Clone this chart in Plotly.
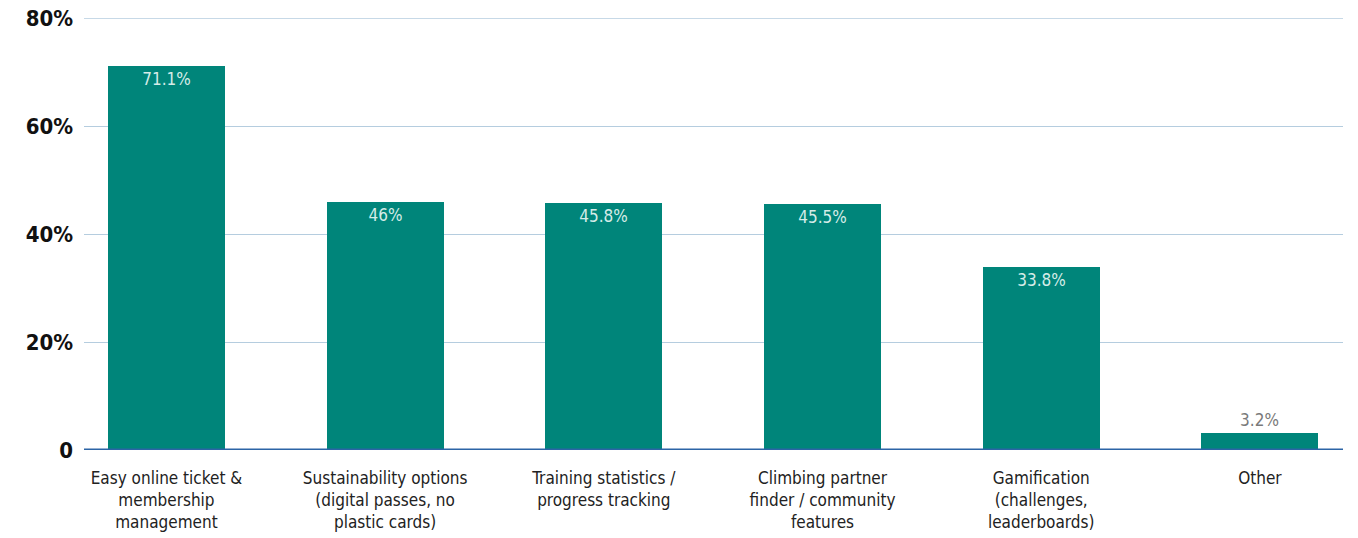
import plotly.graph_objects as go

categories = [
    "Easy online ticket &<br>membership<br>management",
    "Sustainability options<br>(digital passes, no<br>plastic cards)",
    "Training statistics /<br>progress tracking",
    "Climbing partner<br>finder / community<br>features",
    "Gamification<br>(challenges,<br>leaderboards)",
    "Other",
]
values = [71.1, 46, 45.8, 45.5, 33.8, 3.2]
value_labels = ["71.1%", "46%", "45.8%", "45.5%", "33.8%", "3.2%"]
y_tick_values = [0, 20, 40, 60, 80]
y_tick_labels = ["0", "20%", "40%", "60%", "80%"]

FONT = "DejaVu Sans Condensed, Roboto Condensed, sans-serif"
BAR_COLOR = "#00857a"
GRID_COLOR = "#b5cddf"

x_pos = list(range(len(categories)))
inside = [v > 10 for v in values]

fig = go.Figure()
fig.add_trace(go.Bar(
    x=x_pos,
    y=values,
    width=0.535,
    marker=dict(color=BAR_COLOR, line=dict(width=0)),
    text=value_labels,
    textposition=["inside" if i else "outside" for i in inside],
    insidetextanchor="end",
    textangle=0,
    cliponaxis=False,
    insidetextfont=dict(family=FONT, size=17, color="#d6ece8"),
    outsidetextfont=dict(family=FONT, size=17, color="#7a7a7a"),
    hoverinfo="skip",
))

fig.update_layout(
    width=1358,
    height=538,
    margin=dict(l=84, r=15, t=18, b=88, autoexpand=False),
    plot_bgcolor="white",
    paper_bgcolor="white",
    showlegend=False,
    bargap=0,
    xaxis=dict(
        range=[-0.377, 5.38],
        tickmode="array",
        tickvals=x_pos,
        ticktext=categories,
        tickfont=dict(family=FONT, size=17, color="#222222"),
        showgrid=False,
        zeroline=False,
        showline=False,
        ticks="",
        ticklabelstandoff=16,
        automargin=False,
    ),
    yaxis=dict(
        range=[0, 80],
        tickmode="array",
        tickvals=y_tick_values,
        ticktext=y_tick_labels,
        tickfont=dict(family=FONT, size=22, color="#111111", weight="bold"),
        showgrid=True,
        gridcolor=GRID_COLOR,
        gridwidth=1.3,
        zeroline=False,
        showline=False,
        ticks="",
        ticklabelstandoff=10,
        automargin=False,
    ),
)

# top gridline at the upper edge of the value range
fig.add_shape(type="line", xref="paper", yref="y", x0=0, x1=1, y0=80, y1=80,
              line=dict(color=GRID_COLOR, width=1.3), layer="below")

# baseline at zero
fig.add_shape(type="line", xref="paper", yref="y", x0=0, x1=1, y0=0, y1=0,
              line=dict(color="#2c64a6", width=3), layer="above")

fig.write_html("out.html")
